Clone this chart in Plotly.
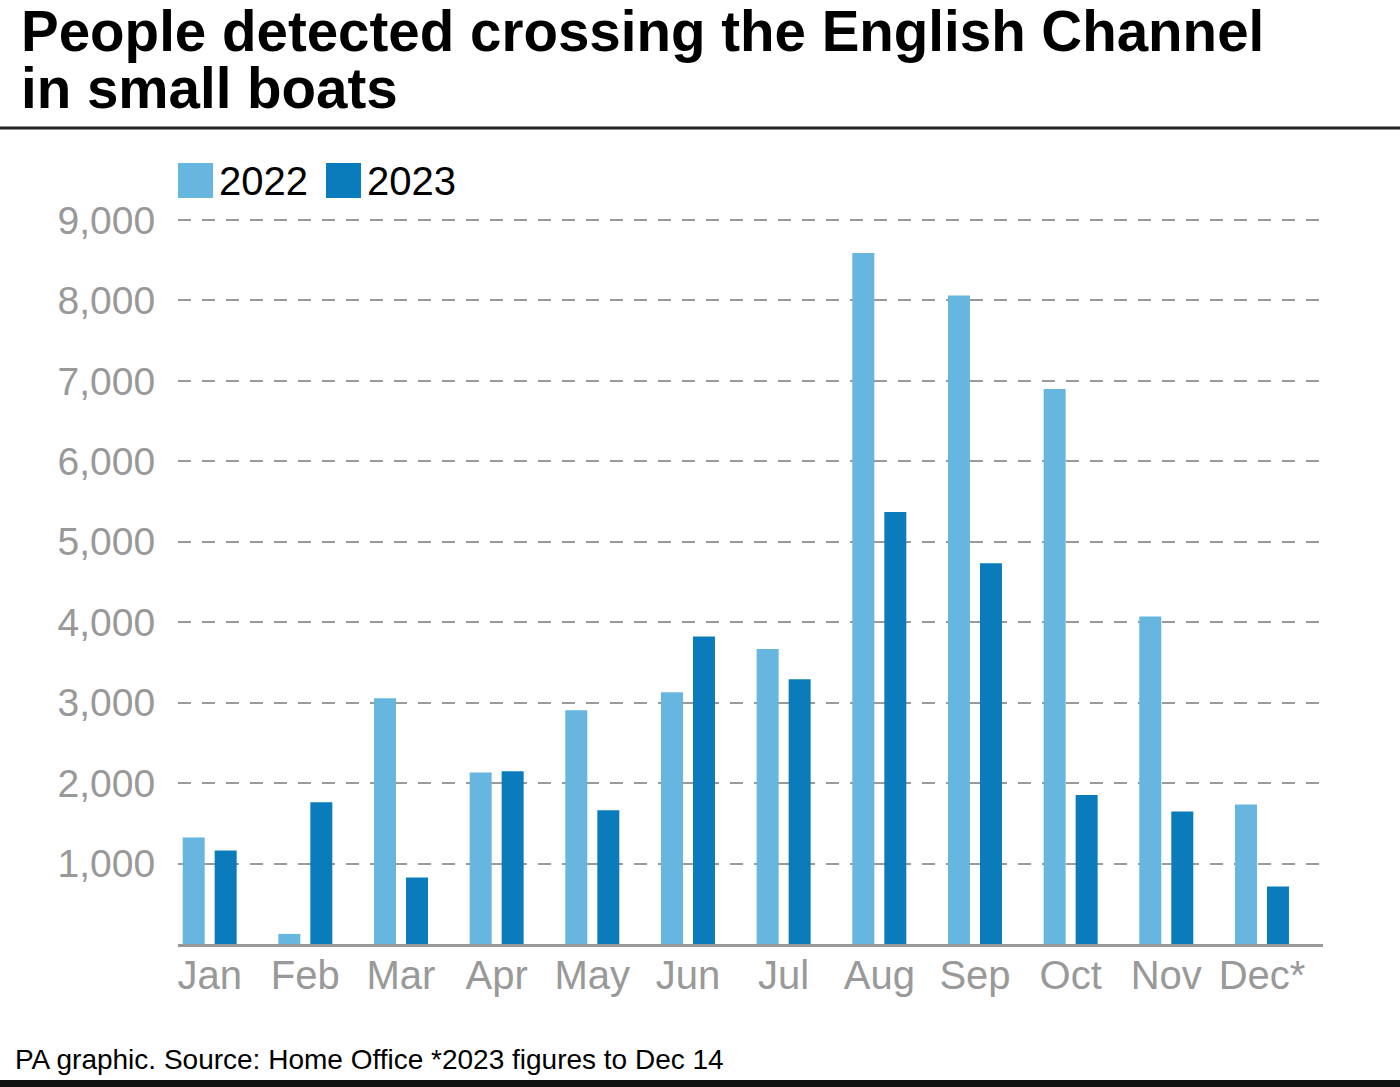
import plotly.graph_objects as go

months = ["Jan", "Feb", "Mar", "Apr", "May", "Jun", "Jul", "Aug", "Sep", "Oct", "Nov", "Dec*"]
series_names = ["2022", "2023"]
values_2022 = [1325, 125, 3055, 2132, 2905, 3130, 3666, 8591, 8063, 6900, 4071, 1733]
values_2023 = [1163, 1762, 827, 2148, 1662, 3824, 3292, 5370, 4734, 1852, 1648, 714]
y_ticks = [1000, 2000, 3000, 4000, 5000, 6000, 7000, 8000, 9000]

colors = ["#66b6e0", "#0a7cbc"]
FONT = "Liberation Sans, Arial, Helvetica, sans-serif"
W, H = 1400, 1087
ML, MR, MT, MB = 178, 77, 218, 143

fig = go.Figure()
for name, vals, col in zip(series_names, [values_2022, values_2023], colors):
    fig.add_trace(go.Bar(x=months, y=vals, name=name, marker=dict(color=col, line=dict(width=0)),
                         showlegend=False))

fig.update_layout(
    width=W, height=H,
    margin=dict(l=ML, r=MR, t=MT, b=MB, autoexpand=False),
    paper_bgcolor="white", plot_bgcolor="white",
    barmode="group", bargap=0.331, bargroupgap=0.3125,
    font=dict(family=FONT, color="#999999"),
    xaxis=dict(
        type="category", range=[-0.331, 11.638],
        showline=True, linecolor="#999999", linewidth=3,
        showgrid=False, zeroline=False,
        ticks="", ticklabelstandoff=-6,
        tickfont=dict(size=40, color="#999999", family=FONT),
    ),
    yaxis=dict(
        range=[0, 9025], tickvals=y_ticks,
        ticktext=[f"{v:,}" for v in y_ticks],
        showgrid=True, gridcolor="#9a9a9a", gridwidth=2, griddash="13px,11px",
        zeroline=False, showline=False,
        ticks="outside", ticklen=14, tickcolor="rgba(0,0,0,0)",
        tickfont=dict(size=39, color="#999999", family=FONT),
    ),
)

def px_x(p):
    return (p - ML) / (W - ML - MR)

def px_y(p):
    return (H - MB - p) / (H - MT - MB)

# Title (two lines, tight leading as in the reference)
fig.add_annotation(text="<b>People detected crossing the English Channel</b>", xref="paper", yref="paper",
                   x=px_x(19), y=px_y(31), xanchor="left", yanchor="middle", showarrow=False,
                   font=dict(size=56.5, color="black", family=FONT))
fig.add_annotation(text="<b>in small boats</b>", xref="paper", yref="paper",
                   x=px_x(19), y=px_y(88), xanchor="left", yanchor="middle", showarrow=False,
                   font=dict(size=56.5, color="black", family=FONT))
# Title rule
fig.add_shape(type="line", xref="paper", yref="paper", x0=px_x(0), x1=px_x(1400), y0=px_y(128), y1=px_y(128),
              line=dict(color="#222222", width=3))

# Legend
leg_x = [178, 326]
for name, col, lx in zip(series_names, colors, leg_x):
    fig.add_shape(type="rect", xref="paper", yref="paper", x0=px_x(lx), x1=px_x(lx + 35),
                  y0=px_y(198), y1=px_y(163), fillcolor=col, line=dict(width=0))
    fig.add_annotation(text=name, xref="paper", yref="paper", x=px_x(lx + 39), y=px_y(181),
                       xanchor="left", yanchor="middle", showarrow=False,
                       font=dict(size=40, color="black", family=FONT))

# Footer
fig.add_annotation(text="PA graphic. Source: Home Office *2023 figures to Dec 14", xref="paper", yref="paper",
                   x=px_x(13), y=px_y(1059), xanchor="left", yanchor="middle", showarrow=False,
                   font=dict(size=28, color="black", family=FONT))
fig.add_shape(type="rect", xref="paper", yref="paper", x0=px_x(0), x1=px_x(1400), y0=px_y(1087), y1=px_y(1080),
              fillcolor="#111111", line=dict(width=0))

fig.write_html("out.html", config={"displayModeBar": False},
               post_script="document.body.style.margin='0';document.body.style.overflow='hidden';")
